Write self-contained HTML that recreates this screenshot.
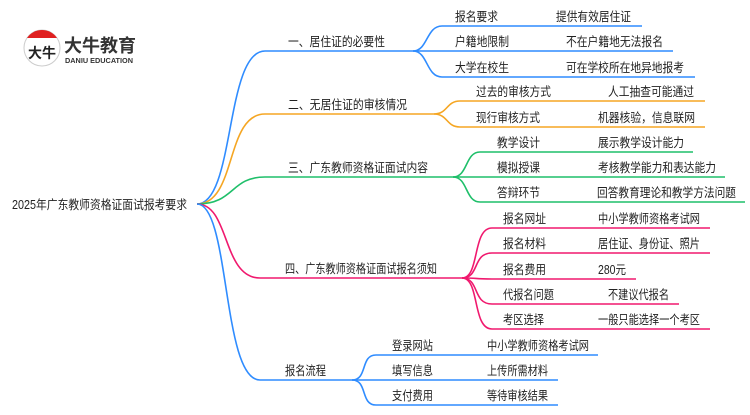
<!DOCTYPE html>
<html><head><meta charset="utf-8"><style>
html,body{margin:0;padding:0;background:#fff;}
svg text{font-family:"Liberation Sans","Noto Sans CJK SC",sans-serif;font-size:12.5px;fill:#222;}
</style></head><body>
<svg width="750" height="410" viewBox="0 0 750 410" xmlns="http://www.w3.org/2000/svg">
<g fill="none" stroke-width="1.6">
<g stroke="#2f8cff">
<path d="M197,204 C235,204 225,51 265,51 L413,51"/>
<path d="M413,51 C428,51 426,26 442,26 L642,26"/>
<path d="M413,51 L673,51"/>
<path d="M413,51 C428,51 426,77 442,77 L695,77"/>
</g>
<g stroke="#f5a623">
<path d="M197,204 C237,204 225,114 265,114 L434,114"/>
<path d="M434,114 C448,114 446,101 460,101 L705,101"/>
<path d="M434,114 C448,114 446,127 460,127 L705,127"/>
</g>
<g stroke="#1fbf6a">
<path d="M197,204 C235,204 230,177 265,177 L453,177"/>
<path d="M453,177 C468,177 465,152 480,152 L693,152"/>
<path d="M453,177 L725,177"/>
<path d="M453,177 C468,177 465,202 480,202 L745,202"/>
</g>
<g stroke="#f0196e">
<path d="M197,204 C230,204 222,278 260,278 L462,278"/>
<path d="M462,278 C480,278 472,228 492,228 L710,228"/>
<path d="M462,278 C480,278 472,253 492,253 L710,253"/>
<path d="M462,278 C480,278 472,279 492,279 L636,279"/>
<path d="M462,278 C480,278 472,304 492,304 L679,304"/>
<path d="M462,278 C480,278 472,329 492,329 L710,329"/>
</g>
<g stroke="#2f8cff">
<path d="M197,204 C230,204 222,380 260,380 L352,380"/>
<path d="M352,380 C368,380 360,355 376,355 L598,355"/>
<path d="M352,380 L558,380"/>
<path d="M352,380 C368,380 360,405 376,405 L558,405"/>
</g>
</g>
<!-- logo -->
<circle cx="42" cy="48" r="18" fill="#fff" stroke="#ccc" stroke-width="1"/>
<path d="M27,38 A18,18 0 0 1 57,38 Z" fill="#e02020"/>
<text x="28" y="58" style="font-size:14px;font-weight:bold;fill:#222">大牛</text>
<text x="64" y="52" textLength="72" lengthAdjust="spacingAndGlyphs" style="font-size:18px;font-weight:bold;fill:#333">大牛教育</text>
<text x="65" y="63" textLength="68" lengthAdjust="spacingAndGlyphs" style="font-size:7px;font-weight:bold;fill:#333">DANIU EDUCATION</text>
<g>
<text x="12" y="209" textLength="175" lengthAdjust="spacingAndGlyphs">2025年广东教师资格证面试报考要求</text>
<text x="288" y="46" textLength="97" lengthAdjust="spacingAndGlyphs">一、居住证的必要性</text>
<text x="288" y="109" textLength="119" lengthAdjust="spacingAndGlyphs">二、无居住证的审核情况</text>
<text x="288" y="172" textLength="140" lengthAdjust="spacingAndGlyphs">三、广东教师资格证面试内容</text>
<text x="285" y="273" textLength="152" lengthAdjust="spacingAndGlyphs">四、广东教师资格证面试报名须知</text>
<text x="285" y="375" textLength="41" lengthAdjust="spacingAndGlyphs">报名流程</text>

<text x="455" y="21" textLength="43" lengthAdjust="spacingAndGlyphs">报名要求</text><text x="556" y="21" textLength="75" lengthAdjust="spacingAndGlyphs">提供有效居住证</text>
<text x="455" y="46" textLength="54" lengthAdjust="spacingAndGlyphs">户籍地限制</text><text x="566" y="46" textLength="97" lengthAdjust="spacingAndGlyphs">不在户籍地无法报名</text>
<text x="455" y="72" textLength="54" lengthAdjust="spacingAndGlyphs">大学在校生</text><text x="566" y="72" textLength="118" lengthAdjust="spacingAndGlyphs">可在学校所在地异地报考</text>

<text x="476" y="96" textLength="75" lengthAdjust="spacingAndGlyphs">过去的审核方式</text><text x="608" y="96" textLength="86" lengthAdjust="spacingAndGlyphs">人工抽查可能通过</text>
<text x="476" y="122" textLength="64" lengthAdjust="spacingAndGlyphs">现行审核方式</text><text x="598" y="122" textLength="97" lengthAdjust="spacingAndGlyphs">机器核验，信息联网</text>

<text x="497" y="147" textLength="43" lengthAdjust="spacingAndGlyphs">教学设计</text><text x="598" y="147" textLength="86" lengthAdjust="spacingAndGlyphs">展示教学设计能力</text>
<text x="497" y="172" textLength="43" lengthAdjust="spacingAndGlyphs">模拟授课</text><text x="598" y="172" textLength="118" lengthAdjust="spacingAndGlyphs">考核教学能力和表达能力</text>
<text x="497" y="197" textLength="43" lengthAdjust="spacingAndGlyphs">答辩环节</text><text x="597" y="197" textLength="139" lengthAdjust="spacingAndGlyphs">回答教育理论和教学方法问题</text>

<text x="503" y="223" textLength="43" lengthAdjust="spacingAndGlyphs">报名网址</text><text x="598" y="223" textLength="102" lengthAdjust="spacingAndGlyphs">中小学教师资格考试网</text>
<text x="503" y="248" textLength="43" lengthAdjust="spacingAndGlyphs">报名材料</text><text x="598" y="248" textLength="102" lengthAdjust="spacingAndGlyphs">居住证、身份证、照片</text>
<text x="503" y="274" textLength="43" lengthAdjust="spacingAndGlyphs">报名费用</text><text x="598" y="274" textLength="28" lengthAdjust="spacingAndGlyphs">280元</text>
<text x="503" y="299" textLength="51" lengthAdjust="spacingAndGlyphs">代报名问题</text><text x="608" y="299" textLength="61" lengthAdjust="spacingAndGlyphs">不建议代报名</text>
<text x="503" y="324" textLength="41" lengthAdjust="spacingAndGlyphs">考区选择</text><text x="598" y="324" textLength="102" lengthAdjust="spacingAndGlyphs">一般只能选择一个考区</text>

<text x="392" y="350" textLength="41" lengthAdjust="spacingAndGlyphs">登录网站</text><text x="487" y="350" textLength="102" lengthAdjust="spacingAndGlyphs">中小学教师资格考试网</text>
<text x="392" y="375" textLength="41" lengthAdjust="spacingAndGlyphs">填写信息</text><text x="487" y="375" textLength="61" lengthAdjust="spacingAndGlyphs">上传所需材料</text>
<text x="392" y="400" textLength="41" lengthAdjust="spacingAndGlyphs">支付费用</text><text x="487" y="400" textLength="61" lengthAdjust="spacingAndGlyphs">等待审核结果</text>
</g>
</svg>
</body></html>
